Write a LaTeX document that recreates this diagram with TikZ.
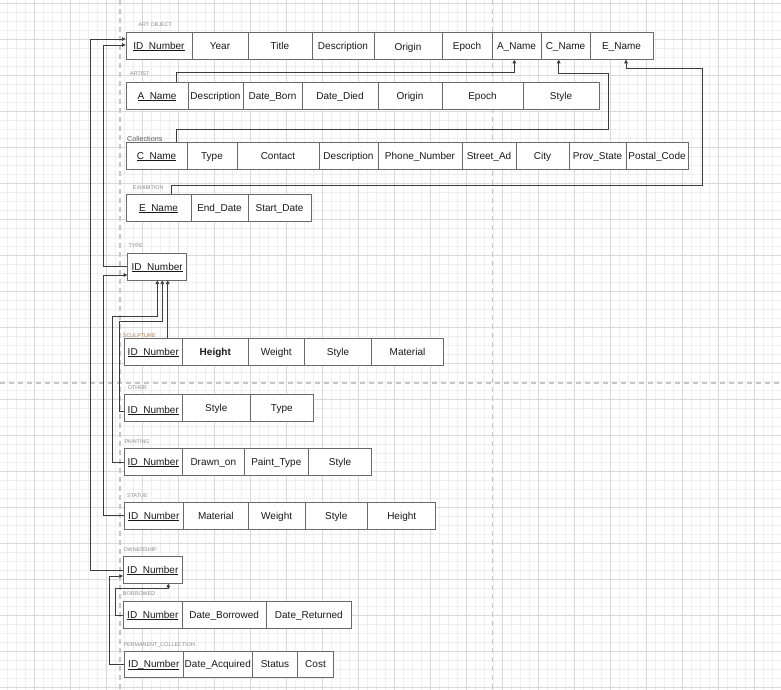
\documentclass[tikz,border=0pt]{standalone}
\usepackage{fontspec}
\setmainfont{Liberation Sans}
\usetikzlibrary{arrows.meta}
\definecolor{gridminor}{HTML}{EFEFEF}
\definecolor{gridmajor}{HTML}{D9D9D9}
\definecolor{pagebreak}{HTML}{C6C6C6}
\definecolor{cellline}{HTML}{6A6A6A}
\definecolor{connline}{HTML}{3C3C3C}
\definecolor{labelgray}{HTML}{8A8A8A}
\definecolor{labelbrown}{HTML}{A8784E}

% one row of attribute cells: prefix, top, bottom, {x1/x2/text, ...}
\newcommand\ertable[4]{%
  \foreach \xa/\xb/\txt [count=\i] in {#4}{%
    \node[cellbox, minimum width={\xb-\xa}, minimum height={#3-#2}]
      (#1\i) at ({(\xa+\xb)/2},{(#2+#3)/2}) {\txt};
  }%
}
% key attribute: thin underline just below the baseline
\newcommand\pk[1]{{\setbox0\hbox{#1}\rlap{\smash{\rule[-1.4pt]{\wd0}{0.55pt}}}\box0}}

\begin{document}
\begin{tikzpicture}[x=1pt,y=-1pt,
  cellbox/.style={draw=cellline, line width=0.8pt, fill=white, inner sep=0pt,
    text height=8.2pt, text depth=1.3pt,
    text=black!90, font=\fontsize{10}{12}\selectfont},
  tlabel/.style={anchor=base west, inner sep=0pt, text=labelgray,
    font=\fontsize{5.4}{6}\selectfont},
  conn/.style={draw=connline, line width=0.7pt,
    -{Triangle[length=3.6pt,width=3.6pt]}},
  pageline/.style={draw=pagebreak, line width=1.1pt, dash pattern=on 5pt off 4pt},
]
\useasboundingbox (0,0) rectangle (781,690);
\fill[white] (0,0) rectangle (781,690);

% background grid
\foreach \k in {0,...,87}{\draw[gridminor, line width=0.5pt] ({7.4+9*\k},0) -- ({7.4+9*\k},690);}
\foreach \k in {0,...,77}{\draw[gridminor, line width=0.5pt] (0,{3+9*\k}) -- (781,{3+9*\k});}
\foreach \k in {0,...,21}{\draw[gridmajor, line width=0.6pt] ({34.4+36*\k},0) -- ({34.4+36*\k},690);}
\foreach \k in {0,...,19}{\draw[gridmajor, line width=0.6pt] (0,{3+36*\k}) -- (781,{3+36*\k});}

% page breaks
\draw[pageline] (120,0) -- (120,690);
\draw[pageline] (492.3,0) -- (492.3,690);
\draw[pageline] (0,383) -- (781,383);

% table titles
\node[tlabel] (lao)  at (138.3,27)   {ART OBJECT};
\node[tlabel] (lar)  at (130,76)     {ARTIST};
\node[tlabel, text=black!65, font=\fontsize{7.2}{8}\selectfont] (lco) at (127,141) {Collections};
\node[tlabel] (lex)  at (132.7,189.3) {EXHIBITION};
\node[tlabel] (lty)  at (128.3,247)  {TYPE};
\node[tlabel, text=labelbrown] (lsc) at (122.7,337) {SCULPTURE};
\node[tlabel] (lot)  at (127.7,389.3) {OTHER};
\node[tlabel] (lpa)  at (124.3,443)  {PAINTING};
\node[tlabel] (lst)  at (127,497)    {STATUE};
\node[tlabel] (low)  at (123.3,551)  {OWNERSHIP};
\node[tlabel] (lbo)  at (122.7,595.7) {BORROWED};
\node[tlabel] (lpc)  at (123.3,646)  {PERMANENT\_COLLECTION};

% tables
\ertable{ao}{32.3}{59.3}{126/192/\pk{ID\_Number}, 192/248/Year, 248/312/Title,
  312/374/Description, 374/442/\raisebox{-1.5pt}{Origin}, 442/492/Epoch,
  492/541/A\_Name, 541/590/C\_Name, 590/653/E\_Name}
\ertable{ar}{82.3}{109}{126/188/\pk{A\_Name}, 188/243/Description, 243/302/Date\_Born,
  302/378/Date\_Died, 378/442/Origin, 442/523/Epoch, 523/599/Style}
\ertable{co}{142.7}{169.3}{126/187/\pk{C\_Name}, 187/237/Type, 237/319/Contact,
  319/378/Description, 378/462/Phone\_Number, 462/516/Street\_Ad, 516/569/City,
  569/626/Prov\_State, 626/688/Postal\_Code}
\ertable{ex}{194.3}{221}{126/191/\pk{E\_Name}, 191/248/End\_Date, 248/311/Start\_Date}
\ertable{ty}{253.3}{280}{127.7/186.7/\pk{ID\_Number}}
\ertable{sc}{338.3}{365.3}{124.3/182.3/\pk{ID\_Number}, 182.3/248.3/\textbf{Height},
  248.3/304.3/Weight, 304.3/371.7/Style, 371.7/443.3/Material}
\ertable{ot}{394.3}{421.7}{124.3/182.3/\raisebox{-2pt}{\pk{ID\_Number}}, 182.3/250.3/Style,
  250.3/313.3/Type}
\ertable{pa}{448.3}{475.7}{124.3/182.3/\pk{ID\_Number}, 182.3/244.3/Drawn\_on,
  244.3/308.3/Paint\_Type, 308.3/371.7/Style}
\ertable{st}{502.3}{529.3}{124.3/183.3/\pk{ID\_Number}, 183.3/248.3/Material,
  248.3/305/Weight, 305/367.7/Style, 367.7/435.7/Height}
\ertable{ow}{556.7}{583.3}{123.3/182.3/\pk{ID\_Number}}
\ertable{bo}{601.7}{628.3}{123.3/182.3/\pk{ID\_Number}, 182.3/266/Date\_Borrowed,
  266/351.7/Date\_Returned}
\ertable{pc}{651}{677.7}{124.3/183.3/\pk{ID\_Number}, 183.3/252.3/Date\_Acquired,
  252.3/297.7/Status, 297.7/333.3/Cost}

% foreign keys into ART OBJECT
\draw[conn] (ow1.west) -| (90.7,39) -- (ao1.west |- 0,39);
\draw[conn] (ty1.west) -| (103.3,45) -- (ao1.west |- 0,45);
\draw[conn] (176,0 |- ar1.north) |- (514.3,72.3) -- (514.3,0 |- ao7.south);
\draw[conn] (176,0 |- co1.north) |- (608,129) |- (558.7,73.3) -- (558.7,0 |- ao8.south);
\draw[conn] (171,0 |- ex1.north) |- (702.3,185) |- (626,68.3) -- (626,0 |- ao9.south);

% subtypes into TYPE
\draw[conn] (st1.west) -| (103.3,275) -- (ty1.west |- 0,275);
\draw[conn] (pa1.west) -| (112.3,316.7) -| (157.3,0 |- ty1.south);
\draw[conn] (ot1.west |- 0,411.7) -| (119.3,321.7) -| (162.3,0 |- ty1.south);
\draw[conn] (167.7,0 |- sc1.north) -- (167.7,0 |- ty1.south);

% subtypes into OWNERSHIP
\draw[conn] (pc1.west) -| (109,576) -- (ow1.west |- 0,576);
\draw[conn] (bo1.west) -| (115,588.3) -| (168.3,0 |- ow1.south);
\end{tikzpicture}
\end{document}
